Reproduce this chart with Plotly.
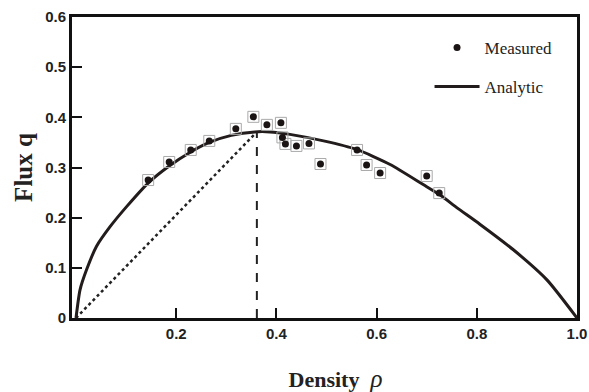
import plotly.graph_objects as go

# Measured data (density, flux)
meas_rho = [0.144, 0.186, 0.229, 0.266, 0.319, 0.354, 0.381, 0.409, 0.412, 0.418,
            0.440, 0.465, 0.488, 0.561, 0.580, 0.607, 0.700, 0.725]
meas_q = [0.275, 0.311, 0.335, 0.353, 0.377, 0.401, 0.385, 0.389, 0.360, 0.347,
          0.343, 0.348, 0.307, 0.335, 0.305, 0.289, 0.283, 0.249]

# Analytic curve
ana_rho = [0.0, 0.008, 0.021, 0.041, 0.068, 0.101, 0.144, 0.186, 0.229, 0.266, 0.310,
           0.357, 0.387, 0.427, 0.494, 0.560, 0.627, 0.693, 0.727, 0.760, 0.806,
           0.873, 0.940, 1.0]
ana_q = [0.0, 0.056, 0.096, 0.143, 0.182, 0.222, 0.269, 0.303, 0.331, 0.350, 0.364,
         0.371, 0.371, 0.366, 0.353, 0.336, 0.306, 0.266, 0.245, 0.220, 0.187,
         0.136, 0.076, 0.0]

# critical point
crit_rho = [0.0, 0.361]
crit_q = [0.0, 0.371]
vert_rho = [0.361, 0.361]
vert_q = [0.0, 0.371]

x_tickvals = [0.2, 0.4, 0.6, 0.8, 1.0]
x_ticktext = ["0.2", "0.4", "0.6", "0.8", "1.0"]
y_tickvals = [0, 0.1, 0.2, 0.3, 0.4, 0.5, 0.6]
y_ticktext = ["0", "0.1", "0.2", "0.3", "0.4", "0.5", "0.6"]

fig = go.Figure()

fig.add_trace(go.Scatter(x=crit_rho, y=crit_q, mode="lines",
                         line=dict(color="#222", width=2.5, dash="dot"),
                         showlegend=False, hoverinfo="skip"))
fig.add_trace(go.Scatter(x=vert_rho, y=vert_q, mode="lines",
                         line=dict(color="#222", width=2, dash="dash"),
                         showlegend=False, hoverinfo="skip"))
fig.add_trace(go.Scatter(x=ana_rho, y=ana_q, mode="lines", name="Analytic",
                         line=dict(color="#221c1c", width=3, shape="spline", smoothing=0.6),
                         legendgroup="b", legendrank=2))
fig.add_trace(go.Scatter(x=meas_rho, y=meas_q, mode="markers", showlegend=False,
                         marker=dict(symbol="square", size=11, color="rgba(255,255,255,0)",
                                     line=dict(color="#aaa", width=1)),
                         hoverinfo="skip"))
fig.add_trace(go.Scatter(x=meas_rho, y=meas_q, mode="markers", name="Measured",
                         marker=dict(symbol="circle", size=7, color="#1a1414"),
                         legendgroup="a", legendrank=1))

fig.update_layout(
    width=589, height=392,
    margin=dict(l=72, r=12, t=17, b=74),
    paper_bgcolor="white", plot_bgcolor="white",
    showlegend=True,
    legend=dict(x=0.708, y=0.957, xanchor="left", yanchor="top",
                font=dict(family="Liberation Serif", size=17, color="#222"),
                bgcolor="rgba(0,0,0,0)", tracegroupgap=14, itemwidth=45),
    xaxis=dict(range=[-0.008, 1.0], tickvals=x_tickvals, ticktext=x_ticktext,
               showgrid=False, zeroline=False, automargin=False,
               showline=True, linecolor="#111", linewidth=3, mirror=True,
               ticks="inside", ticklen=10, tickwidth=2, tickcolor="#111",
               tickfont=dict(family="Liberation Sans", size=15, color="#222", weight="bold"),
               title=dict(text="&nbsp;&nbsp;&nbsp;&nbsp;<b>Density</b>&nbsp;&nbsp;<span style='font-size:25px'><i>ρ</i></span>",
                          standoff=36,
                          font=dict(family="Liberation Serif", size=22, color="#222"))),
    yaxis=dict(range=[0, 0.6], tickvals=y_tickvals, ticktext=y_ticktext,
               showgrid=False, zeroline=False, automargin=False,
               showline=True, linecolor="#111", linewidth=3, mirror=True,
               ticks="inside", ticklen=10, tickwidth=2, tickcolor="#111",
               tickfont=dict(family="Liberation Sans", size=15, color="#222", weight="bold"),
               title=dict(text="<b>Flux q</b>", standoff=6,
                          font=dict(family="Liberation Serif", size=25, color="#222"))),
)

fig.write_html("out.html")
